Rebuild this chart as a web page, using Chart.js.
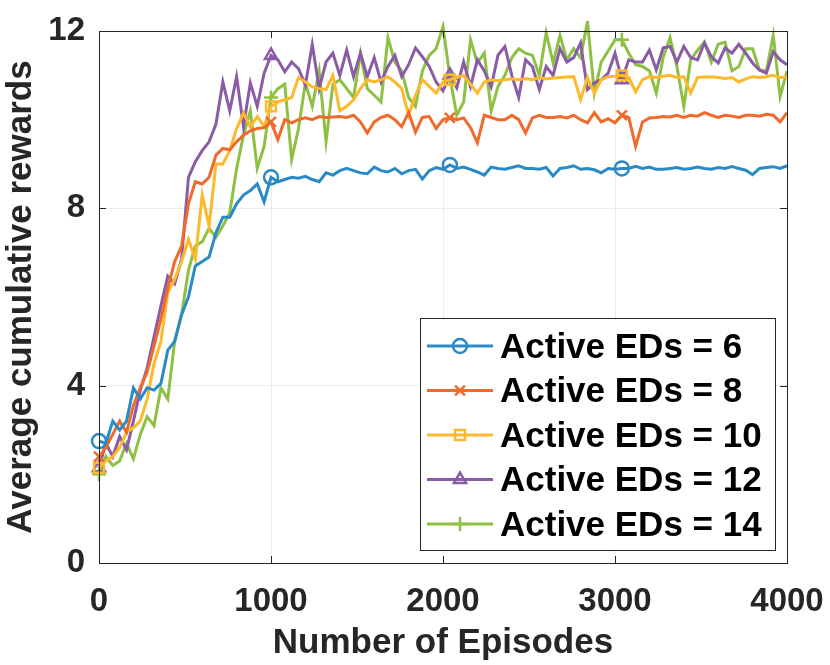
<!DOCTYPE html>
<html>
<head>
<meta charset="utf-8">
<script src="https://cdn.jsdelivr.net/npm/chart.js@4.4.1/dist/chart.umd.min.js"></script>
<style>
  html, body { margin: 0; padding: 0; background: #fff; }
  #wrap { width: 830px; height: 665px; }
</style>
</head>
<body>
<div id="wrap"><canvas id="rewardChart"></canvas></div>
<script>
// episode axis, one sample every 40 episodes
const episodes = Array.from({ length: 101 }, (_, i) => i * 40);
const xTicks = [0, 1000, 2000, 3000, 4000];
const yTicks = [0, 4, 8, 12];

const seriesLabels = ['Active EDs = 6', 'Active EDs = 8', 'Active EDs = 10', 'Active EDs = 12', 'Active EDs = 14'];

const eds6 = [
  2.75, 2.7, 3.2, 3.0, 3.2, 3.95, 3.7, 3.95, 3.9, 4.05,
  4.8, 5.0, 5.6, 6.0, 6.7, 6.8, 6.9, 7.45, 7.8, 7.8,
  8.1, 8.3, 8.4, 8.55, 8.15, 8.7, 8.6, 8.65, 8.7, 8.68,
  8.72, 8.65, 8.6, 8.8, 8.75, 8.85, 8.9, 8.85, 8.8, 8.78,
  8.93, 8.85, 8.82, 8.9, 8.78, 8.85, 8.88, 8.66, 8.85, 8.92,
  8.88, 8.98, 8.9, 8.93, 8.88, 8.82, 8.75, 8.93, 8.9, 8.88,
  8.92, 8.96, 8.9, 8.9, 8.88, 8.92, 8.73, 8.9, 8.92, 8.96,
  8.88, 8.9, 8.87, 8.8, 8.9, 8.88, 8.9, 8.9, 8.95, 8.9,
  8.93, 8.88, 8.88, 8.9, 8.92, 8.88, 8.9, 8.93, 8.9, 8.88,
  8.92, 8.9, 8.94, 8.9, 8.86, 8.76, 8.9, 8.92, 8.94, 8.9,
  8.96
];
const eds8 = [
  2.4, 2.6, 2.9, 3.2, 2.95, 3.55, 3.95, 4.3, 4.9, 5.5,
  6.2, 6.8, 7.15, 8.1, 8.6, 8.55, 8.7, 9.2, 9.35, 9.32,
  9.5, 9.65, 9.75, 9.8, 9.82, 9.95, 9.55, 10.0, 9.93, 10.0,
  10.04, 10.0, 10.07, 10.05, 10.06, 10.07, 10.05, 10.1, 9.95, 9.7,
  9.95, 10.05, 10.1, 10.0, 9.84, 10.16, 9.72, 10.05, 10.07, 9.8,
  10.0, 10.04, 10.0, 10.04, 9.82, 9.48, 10.1, 10.05, 10.0, 10.0,
  10.1, 10.0, 9.7, 10.04, 10.1, 10.05, 10.05, 10.07, 10.04, 10.1,
  10.0, 9.93, 10.16, 9.95, 10.02, 9.93, 10.1, 10.05, 9.4, 9.95,
  10.04, 10.05, 10.07, 10.06, 10.1, 10.05, 10.1, 10.08, 10.16, 10.1,
  10.05, 10.1, 10.08, 10.05, 10.1, 10.1, 10.08, 10.12, 10.1, 9.95,
  10.16
];
const eds10 = [
  2.15, 2.3, 2.4, 2.6, 2.95, 3.05, 3.2, 3.7, 4.5, 5.0,
  6.1, 6.4, 6.8, 7.3, 6.85, 8.3, 7.6, 9.0, 9.0, 9.3,
  9.8, 10.15, 9.84, 10.07, 9.85, 10.3, 10.4, 10.45, 10.5, 10.95,
  10.85, 10.74, 10.7, 10.68, 11.0, 10.2, 10.3, 10.45, 10.7, 10.9,
  10.85, 10.9, 10.97, 10.85, 10.7, 10.1, 10.55, 10.9, 10.75, 10.6,
  10.85, 10.9, 10.95, 11.0, 10.8, 10.6, 10.85, 10.9, 10.88, 10.9,
  10.92, 10.9, 10.93, 10.9, 10.95, 10.92, 10.94, 10.95, 10.96, 10.97,
  10.45, 10.95, 10.6, 10.9, 10.97, 10.98, 11.0, 10.95, 10.63, 10.9,
  10.97, 10.95, 10.98, 11.0, 10.95, 10.97, 10.6, 10.95, 10.96, 10.97,
  10.95, 10.93, 10.95, 10.85, 10.92, 10.97, 10.95, 10.97, 11.0, 10.95,
  10.97
];
const eds12 = [
  2.15, 2.7, 2.4, 2.85, 2.55, 3.2, 3.9, 4.4, 5.1, 5.8,
  6.47, 6.3, 6.85, 8.7, 9.05, 9.3, 9.5, 9.9, 10.85, 10.2,
  10.97, 9.84, 10.83, 10.3, 11.05, 11.45, 11.35, 11.08, 11.3, 11.15,
  10.78, 11.7, 10.7, 11.3, 11.5, 11.0, 11.57, 10.97, 11.5, 10.97,
  11.4, 10.85, 11.2, 11.45, 10.97, 11.24, 11.62, 11.42, 11.2, 10.85,
  10.65, 11.0, 10.72, 11.3, 10.75, 11.35, 11.1, 10.74, 11.46, 11.65,
  11.0, 10.5, 11.35, 11.2, 10.68, 11.2, 11.0, 11.6, 11.3, 11.4,
  11.73, 10.68, 10.83, 10.9, 11.05, 11.5, 10.9, 11.35, 11.3, 11.3,
  11.57, 11.12, 11.62, 11.65, 11.3, 11.65, 11.4, 11.35, 11.73, 11.42,
  11.28, 11.62, 11.5, 11.7, 11.5, 11.28, 11.12, 11.05, 11.53, 11.35,
  11.24
];
const eds14 = [
  2.0, 2.4, 2.2, 2.3, 2.7, 2.35, 2.9, 3.3, 3.1, 3.95,
  3.7, 5.0, 5.6, 6.6, 7.15, 7.25, 7.55, 7.35, 7.6, 7.9,
  8.9, 9.65, 10.2, 8.9, 9.4, 10.5, 10.7, 10.8, 9.1, 9.8,
  10.83, 10.3, 11.1, 9.5, 10.8, 10.9, 10.7, 10.5, 11.5, 10.7,
  10.55, 10.4, 11.85, 11.3, 11.1, 10.5, 10.3, 11.1, 11.45, 11.6,
  12.1, 10.97, 10.1, 10.4, 11.8, 11.28, 11.5, 10.2, 10.75, 11.0,
  11.4, 11.6, 11.5, 11.45, 11.0, 11.96, 11.28, 11.9, 11.35, 11.6,
  11.4, 12.22, 10.6, 11.3, 11.55, 11.8, 11.8, 11.5, 11.24, 11.2,
  11.1, 10.6, 11.4, 11.85, 11.2, 10.3, 11.35, 11.57, 11.75, 11.3,
  11.7, 11.75, 11.1, 11.2, 11.6, 11.6, 11.12, 11.1, 11.9, 10.52,
  11.1
];

const allSeries = [eds6, eds8, eds10, eds12, eds14];
const colors = ['#2A8AC6', '#EF6A2B', '#FDB92C', '#8A5CA6', '#8DC043'];
const markers = ['circle', 'crossRot', 'rect', 'triangle', 'cross'];
// sample indices that carry a marker (MATLAB MarkerIndices)
const markerIdx = [0, 25, 51, 76];

const FONT = '"Liberation Sans", Arial, Helvetica, sans-serif';
const INK = '#262626';

const datasets = allSeries.map((vals, s) => ({
  label: seriesLabels[s],
  data: vals.map((v, i) => ({ x: episodes[i], y: v })),
  borderColor: colors[s],
  backgroundColor: colors[s],
  borderWidth: 3,
  pointStyle: markers[s],
  pointRadius: ctx => markerIdx.includes(ctx.dataIndex) ? 7 : 0,
  pointBorderWidth: 2.5,
  pointBorderColor: colors[s],
  pointBackgroundColor: 'rgba(0,0,0,0)',
  pointHoverRadius: 0,
  tension: 0,
  clip: 10
}));

// box round the axes with inward ticks, like MATLAB "box on"
const axesBox = {
  id: 'axesBox',
  afterDatasetsDraw(chart) {
    const { ctx, chartArea: a, scales } = chart;
    const tl = 7;
    ctx.save();
    ctx.strokeStyle = INK;
    ctx.lineWidth = 1;
    ctx.strokeRect(a.left + 0.5, a.top + 0.5, a.right - a.left, a.bottom - a.top);
    ctx.beginPath();
    xTicks.forEach(t => {
      const px = Math.round(scales.x.getPixelForValue(t)) + 0.5;
      ctx.moveTo(px, a.bottom); ctx.lineTo(px, a.bottom - tl);
      ctx.moveTo(px, a.top); ctx.lineTo(px, a.top + tl);
    });
    yTicks.forEach(t => {
      const py = Math.round(scales.y.getPixelForValue(t)) + 0.5;
      ctx.moveTo(a.left, py); ctx.lineTo(a.left + tl, py);
      ctx.moveTo(a.right, py); ctx.lineTo(a.right - tl, py);
    });
    ctx.stroke();
    ctx.restore();
  }
};

// legend box inside the lower right corner of the axes
const legendBox = {
  id: 'legendBox',
  afterDraw(chart) {
    const { ctx, chartArea: a } = chart;
    const w = 355, h = 232;
    const x0 = a.right - 12 - w, y0 = a.bottom - 13 - h;
    ctx.save();
    ctx.fillStyle = '#fff';
    ctx.fillRect(x0, y0, w, h);
    ctx.strokeStyle = INK;
    ctx.lineWidth = 1;
    ctx.strokeRect(x0 + 0.5, y0 + 0.5, w, h);
    chart.data.datasets.forEach((ds, i) => {
      const cy = y0 + 28 + i * 44.5;
      ctx.strokeStyle = ds.borderColor;
      ctx.lineWidth = 3;
      ctx.beginPath();
      ctx.moveTo(x0 + 7, cy);
      ctx.lineTo(x0 + 73, cy);
      ctx.stroke();
      ctx.fillStyle = 'rgba(0,0,0,0)';
      ctx.lineWidth = 2.5;
      Chart.helpers.drawPoint(ctx, { pointStyle: ds.pointStyle, radius: 7, borderWidth: 2.5, rotation: 0 }, x0 + 40, cy);
      ctx.fillStyle = '#000';
      ctx.font = 'bold 35px ' + FONT;
      ctx.textAlign = 'left';
      ctx.textBaseline = 'middle';
      ctx.fillText(ds.label, x0 + 80, cy + 2);
    });
    ctx.restore();
  }
};

new Chart(document.getElementById('rewardChart'), {
  type: 'line',
  data: { datasets },
  options: {
    responsive: true,
    maintainAspectRatio: false,
    animation: false,
    events: [],
    layout: { padding: { top: 31, right: 43, left: 0, bottom: 0 } },
    plugins: {
      legend: { display: false },
      tooltip: { enabled: false }
    },
    scales: {
      x: {
        type: 'linear',
        min: 0,
        max: 4000,
        afterBuildTicks: scale => { scale.ticks = xTicks.map(v => ({ value: v })); },
        afterFit: scale => {
          scale.height = 102;
          scale.paddingLeft = 0;
          scale.paddingRight = 0;
        },
        ticks: {
          color: INK,
          padding: 19,
          maxRotation: 0,
          callback: v => String(v),
          font: { family: FONT, size: 33, weight: 'bold' }
        },
        grid: { color: '#EBEBEB', lineWidth: 1, drawTicks: false },
        border: { display: false },
        title: {
          display: true,
          text: 'Number of Episodes',
          color: INK,
          padding: { top: 0, bottom: 1 },
          font: { family: FONT, size: 35, weight: 'bold' }
        }
      },
      y: {
        min: 0,
        max: 12,
        afterBuildTicks: scale => { scale.ticks = yTicks.map(v => ({ value: v })); },
        afterFit: scale => {
          scale.width = 99;
          scale.paddingTop = 0;
          scale.paddingBottom = 0;
        },
        ticks: {
          color: INK,
          padding: 14,
          callback: v => String(v),
          font: { family: FONT, size: 33, weight: 'bold' }
        },
        grid: { color: '#EBEBEB', lineWidth: 1, drawTicks: false },
        border: { display: false },
        title: {
          display: true,
          text: 'Average cumulative rewards',
          color: INK,
          padding: { top: 0, bottom: 0 },
          font: { family: FONT, size: 35, weight: 'bold' }
        }
      }
    }
  },
  plugins: [axesBox, legendBox]
});
</script>
</body>
</html>
